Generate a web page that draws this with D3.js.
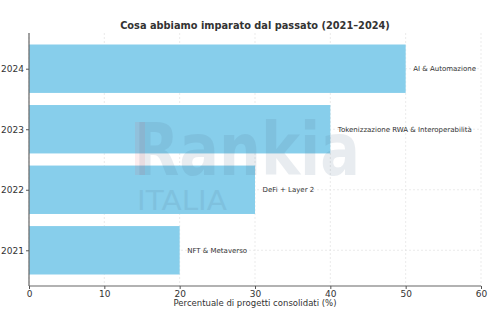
<!DOCTYPE html>
<html>
<head>
<meta charset="utf-8">
<script src="https://cdn.jsdelivr.net/npm/d3@7"></script>
<style>
  body { margin: 0; background: #fff; }
  text { font-family: "DejaVu Sans", sans-serif; }
</style>
</head>
<body>
<div id="chart"></div>
<script>
// data
const years = ["2021", "2022", "2023", "2024"];
const values = [20, 30, 40, 50];
const labels = ["NFT & Metaverso", "DeFi + Layer 2", "Tokenizzazione RWA & Interoperabilità", "AI & Automazione"];
const xTicks = [0, 10, 20, 30, 40, 50, 60];

const width = 491, height = 330;
const margin = { top: 33, right: 10, bottom: 44, left: 29 };
const innerW = 481 - margin.left;
const innerH = 286 - margin.top;

const svg = d3.select("#chart").append("svg")
    .attr("width", width)
    .attr("height", height);

// title
svg.append("text")
    .attr("x", 255).attr("y", 29)
    .attr("text-anchor", "middle")
    .style("font-size", "9.8px")
    .style("font-weight", "bold")
    .style("fill", "#333")
    .text("Cosa abbiamo imparato dal passato (2021–2024)");

const g = svg.append("g").attr("transform", `translate(${margin.left},${margin.top})`);

const x = d3.scaleLinear().domain([0, 60]).range([0, innerW]);
// matplotlib-like: bar index 0..3, bar height 0.8, 5% margins
const y = d3.scaleLinear().domain([-0.59, 3.59]).range([innerH, 0]);

// grid
g.selectAll(".vgrid").data(xTicks).join("line")
    .attr("x1", d => x(d)).attr("x2", d => x(d))
    .attr("y1", 0).attr("y2", innerH)
    .attr("stroke", "#ddd").attr("stroke-width", 0.6)
    .attr("stroke-dasharray", "2,2");
g.selectAll(".hgrid").data(years).join("line")
    .attr("x1", 0).attr("x2", innerW)
    .attr("y1", (d, i) => y(i)).attr("y2", (d, i) => y(i))
    .attr("stroke", "#ddd").attr("stroke-width", 0.6)
    .attr("stroke-dasharray", "2,2");

// bars
g.selectAll(".bar").data(values).join("rect")
    .attr("x", x(0))
    .attr("y", (d, i) => y(i + 0.4))
    .attr("width", d => x(d) - x(0))
    .attr("height", y(0) - y(0.8))
    .attr("fill", "#87CEEB");

// watermark (over the bars)
const wm = svg.append("g").style("pointer-events", "none");
wm.append("text")
    .attr("x", 134).attr("y", 175)
    .attr("textLength", 226)
    .attr("lengthAdjust", "spacingAndGlyphs")
    .style("font-size", "73px")
    .style("font-weight", "bold")
    .style("fill", "#4a6a88")
    .style("opacity", 0.12)
    .text("Rankia");
wm.append("rect")
    .attr("x", 135).attr("y", 122).attr("width", 10).attr("height", 53)
    .attr("fill", "#e8505b").style("opacity", 0.1);
wm.append("text")
    .attr("x", 137).attr("y", 210)
    .attr("textLength", 90)
    .attr("lengthAdjust", "spacingAndGlyphs")
    .style("font-size", "26px")
    .style("fill", "#4a6a88")
    .style("opacity", 0.12)
    .text("ITALIA");

// bar labels
g.selectAll(".blabel").data(labels).join("text")
    .attr("x", (d, i) => x(values[i] + 1))
    .attr("y", (d, i) => y(i))
    .attr("dy", "0.35em")
    .style("font-size", "7px")
    .style("fill", "#333")
    .text(d => d);

// axes
const xAxis = g.append("g")
    .attr("transform", `translate(0,${innerH})`)
    .call(d3.axisBottom(x).tickValues(xTicks).tickSize(3).tickPadding(2));
const yAxis = g.append("g")
    .call(d3.axisLeft(y).tickValues([0, 1, 2, 3]).tickFormat(i => years[i]).tickSize(3).tickPadding(2));

[xAxis, yAxis].forEach(a => {
    a.select(".domain").attr("stroke", "#666").attr("stroke-width", 1.2);
    a.selectAll(".tick line").attr("stroke", "#555");
    a.selectAll(".tick text").style("font-size", "9px").style("fill", "#333")
        .style("font-family", "DejaVu Sans, sans-serif");
});
yAxis.select(".domain").attr("d", `M0,${innerH}V0`);
xAxis.select(".domain").attr("d", `M0,0H${innerW}`);

svg.append("text")
    .attr("x", margin.left + innerW / 2).attr("y", 306)
    .attr("text-anchor", "middle")
    .style("font-size", "8.5px")
    .style("fill", "#333")
    .text("Percentuale di progetti consolidati (%)");
</script>
</body>
</html>
